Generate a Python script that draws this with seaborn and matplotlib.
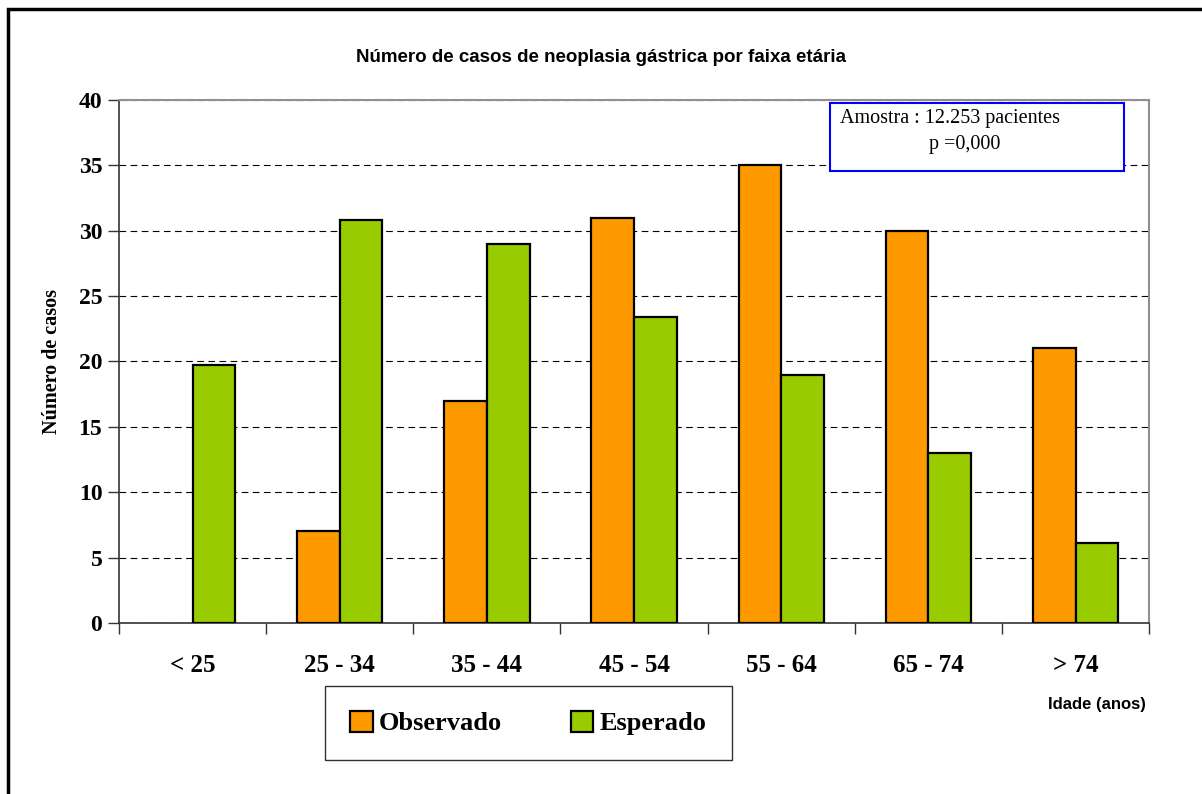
import pandas as pd
import matplotlib
matplotlib.use("Agg")
import matplotlib.pyplot as plt
import seaborn as sns
from matplotlib.patches import Rectangle

# data
faixas = ["< 25", "25 - 34", "35 - 44", "45 - 54", "55 - 64", "65 - 74", "> 74"]
observado = [None, 7, 17, 31, 35, 30, 21]
esperado = [19.7, 30.8, 29.0, 23.4, 19.0, 13.0, 6.1]
series = ["Observado", "Esperado"]
cores = ["#FF9900", "#99CC00"]

df = pd.DataFrame({
    "faixa": faixas * 2,
    "casos": observado + esperado,
    "grupo": [series[0]] * len(faixas) + [series[1]] * len(faixas),
})
df["casos"] = df["casos"].astype(float)

sns.set_style("white")
plt.rcParams["font.family"] = ["Liberation Serif", "DejaVu Serif"]
plt.rcParams["text.color"] = "black"
plt.rcParams["axes.labelcolor"] = "black"
plt.rcParams["xtick.color"] = "black"
plt.rcParams["ytick.color"] = "black"

fig = plt.figure(figsize=(12.02, 7.94), dpi=100)
ax = fig.add_axes([0.099, 0.2154, 0.857, 0.6587])

sns.barplot(data=df, x="faixa", y="casos", hue="grupo", order=faixas,
            hue_order=series, palette=cores, saturation=1, width=0.58,
            edgecolor="black", linewidth=1.6, ax=ax, zorder=3)

ax.set_ylim(0, 40)
ax.set_xlim(-0.5, len(faixas) - 0.5)
ax.set_yticks(range(0, 41, 5))
ax.yaxis.grid(True, linestyle=(0, (6, 4)), color="black", linewidth=0.8)
ax.set_axisbelow(True)

# spines
for s in ["top", "right"]:
    ax.spines[s].set_color("#909090")
    ax.spines[s].set_linewidth(1.5)
for s in ["left", "bottom"]:
    ax.spines[s].set_color("#333333")
    ax.spines[s].set_linewidth(1.2)

# ticks
ax.tick_params(axis="y", which="major", left=True, length=8, width=1, color="#333333",
               labelsize=17, pad=4)
ax.set_xticks([i - 0.5 for i in range(len(faixas) + 1)], minor=True)
ax.tick_params(axis="x", which="minor", bottom=True, length=8, width=1, color="#333333")
ax.tick_params(axis="x", which="major", bottom=False, labelsize=18, pad=19)
for lab in ax.get_xticklabels() + ax.get_yticklabels():
    lab.set_fontweight("bold")

ax.set_xlabel("")
ax.set_ylabel("Número de casos", fontsize=14.5, fontweight="bold", labelpad=12)

fig.text(0.5, 1 - 57 / 794, "Número de casos de neoplasia gástrica por faixa etária",
         ha="center", va="center", fontsize=13.5, fontweight="bold",
         family=["Liberation Sans", "DejaVu Sans"])
fig.text(1097 / 1202, 1 - 705 / 794, "Idade (anos)", ha="center", va="center",
         fontsize=12, fontweight="bold", family=["Liberation Sans", "DejaVu Sans"])

# info box
fig.patches.append(Rectangle((830 / 1202, 1 - 171 / 794), 294 / 1202, 68 / 794,
                             transform=fig.transFigure, fill=True, facecolor="white",
                             edgecolor="#0000FF", linewidth=1.5, zorder=5))
fig.text(840 / 1202, 1 - 118 / 794, "Amostra : 12.253 pacientes", ha="left",
         va="center", fontsize=14.5, zorder=6)
fig.text(965 / 1202, 1 - 144 / 794, "p =0,000", ha="center", va="center",
         fontsize=14.5, zorder=6)

# legend
ax.get_legend().remove()
handles = [Rectangle((0, 0), 1, 1, facecolor=c, edgecolor="black", linewidth=1.6)
           for c in cores]
leg = fig.legend(handles, series, loc="center", bbox_to_anchor=(0.4397, 0.0894),
                 ncol=2, fancybox=False, frameon=True, handlelength=0.85,
                 handleheight=0.85, handletextpad=0.25, columnspacing=2.6,
                 borderpad=0.95, prop={"family": "Liberation Serif", "weight": "bold",
                                       "size": 19})
leg.get_frame().set_edgecolor("black")
leg.get_frame().set_linewidth(1.0)

# outer border
fig.patches.append(Rectangle((8 / 1202, -0.1), 1.2, 1 - 9 / 794 + 0.1,
                             transform=fig.transFigure, fill=False,
                             edgecolor="black", linewidth=2.5))

fig.savefig("out.png", dpi=100)
